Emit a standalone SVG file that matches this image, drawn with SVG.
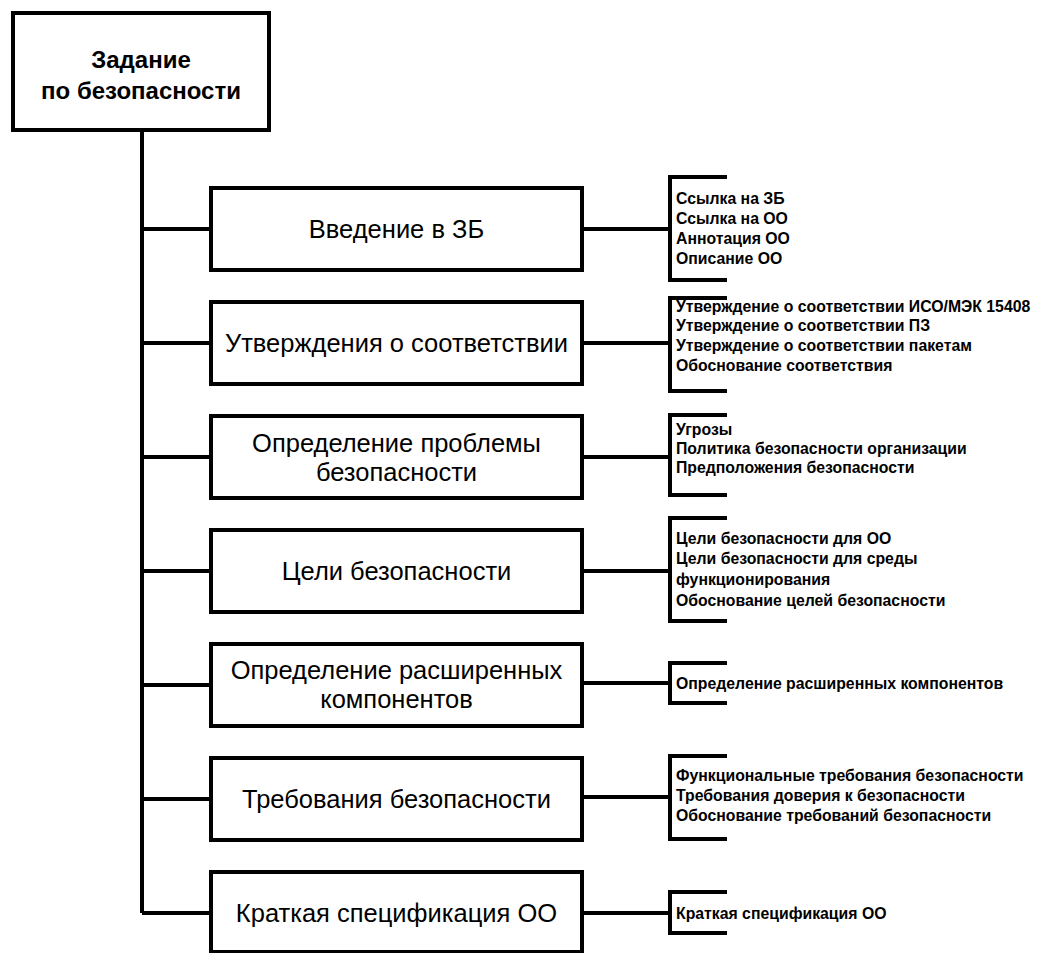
<svg xmlns="http://www.w3.org/2000/svg" width="1039" height="953" viewBox="0 0 1039 953">
<style>
.box{fill:#fff;stroke:#000;stroke-width:4}
.ln{fill:none;stroke:#000;stroke-width:4}
.top{font-family:"Liberation Sans",Arial,sans-serif;font-size:24px;font-weight:bold;text-anchor:middle}
.main{font-family:"Liberation Sans",Arial,sans-serif;font-size:25.5px;text-anchor:middle}
.sm{font-family:"Liberation Sans",Arial,sans-serif;font-size:15.8px;font-weight:bold}
</style>
<rect width="1039" height="953" fill="#fff"/>
<g id="connectors">
<path class="ln" d="M142 130V913"/>
<path class="ln" d="M142 229H211M142 343H211M142 457H211M142 571H211M142 685H211M142 799H211M142 913H211"/>
<path class="ln" d="M582 229H670M582 343H670M582 457H670M582 571H670M582 683H670M582 797H670M582 913H670"/>
<path class="ln" d="M727 177H670V280H727"/>
<path class="ln" d="M727 298H670V391H727"/>
<path class="ln" d="M727 415H670V495H727"/>
<path class="ln" d="M727 518H670V621H727"/>
<path class="ln" d="M727 663H670V703H727"/>
<path class="ln" d="M727 756H670V839H727"/>
<path class="ln" d="M727 892H670V933H727"/>
</g>
<g id="root">
<rect class="box" x="13" y="13" width="256" height="117"/>
<text class="top" x="141" y="68">Задание</text>
<text class="top" x="141" y="99">по безопасности</text>
</g>
<g id="n1">
<rect class="box" x="211" y="188" width="371" height="82"/>
<text class="main" x="396.5" y="238">Введение в ЗБ</text>
</g>
<g id="n2">
<rect class="box" x="211" y="302" width="371" height="82"/>
<text class="main" x="396.5" y="352">Утверждения о соответствии</text>
</g>
<g id="n3">
<rect class="box" x="211" y="416" width="371" height="82"/>
<text class="main" x="396.5" y="452">Определение проблемы</text>
<text class="main" x="396.5" y="481">безопасности</text>
</g>
<g id="n4">
<rect class="box" x="211" y="530" width="371" height="82"/>
<text class="main" x="396.5" y="580">Цели безопасности</text>
</g>
<g id="n5">
<rect class="box" x="211" y="644" width="371" height="82"/>
<text class="main" x="396.5" y="679">Определение расширенных</text>
<text class="main" x="396.5" y="708">компонентов</text>
</g>
<g id="n6">
<rect class="box" x="211" y="758" width="371" height="82"/>
<text class="main" x="396.5" y="808">Требования безопасности</text>
</g>
<g id="n7">
<rect class="box" x="211" y="872" width="371" height="80"/>
<text class="main" x="396.5" y="922">Краткая спецификация ОО</text>
</g>
<g id="d1">
<text class="sm" x="676" y="204">Ссылка на ЗБ</text>
<text class="sm" x="676" y="224">Ссылка на ОО</text>
<text class="sm" x="676" y="244">Аннотация ОО</text>
<text class="sm" x="676" y="264">Описание ОО</text>
</g>
<g id="d2">
<text class="sm" x="676" y="312">Утверждение о соответствии ИСО/МЭК 15408</text>
<text class="sm" x="676" y="331">Утверждение о соответствии ПЗ</text>
<text class="sm" x="676" y="351">Утверждение о соответствии пакетам</text>
<text class="sm" x="676" y="371">Обоснование соответствия</text>
</g>
<g id="d3">
<text class="sm" x="676" y="435">Угрозы</text>
<text class="sm" x="676" y="454">Политика безопасности организации</text>
<text class="sm" x="676" y="473">Предположения безопасности</text>
</g>
<g id="d4">
<text class="sm" x="676" y="544">Цели безопасности для ОО</text>
<text class="sm" x="676" y="564">Цели безопасности для среды</text>
<text class="sm" x="676" y="585">функционирования</text>
<text class="sm" x="676" y="606">Обоснование целей безопасности</text>
</g>
<g id="d5">
<text class="sm" x="676" y="689">Определение расширенных компонентов</text>
</g>
<g id="d6">
<text class="sm" x="676" y="781">Функциональные требования безопасности</text>
<text class="sm" x="676" y="801">Требования доверия к безопасности</text>
<text class="sm" x="676" y="821">Обоснование требований безопасности</text>
</g>
<g id="d7">
<text class="sm" x="676" y="919">Краткая спецификация ОО</text>
</g>
</svg>
